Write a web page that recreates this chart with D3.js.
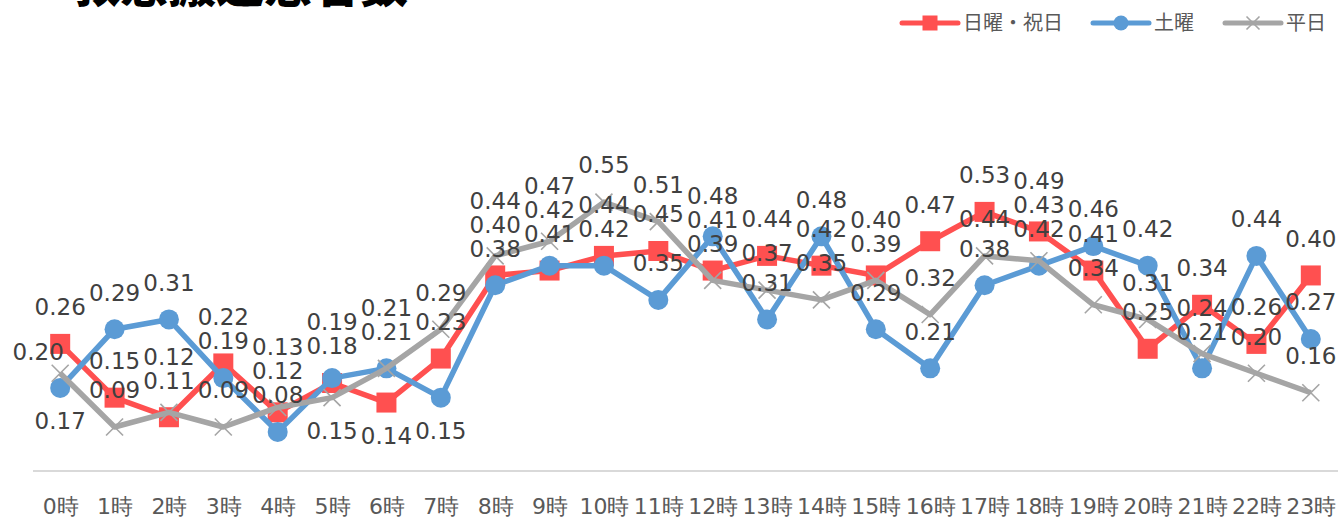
<!DOCTYPE html>
<html>
<head>
<meta charset="utf-8">
<script src="https://cdn.jsdelivr.net/npm/d3@7"></script>
<style>
body { margin: 0; background: #fff; }
svg { display: block; }
</style>
</head>
<body>
<div id="chart"></div>
<script>
var hours = ['0時','1時','2時','3時','4時','5時','6時','7時','8時','9時','10時','11時',
	'12時','13時','14時','15時','16時','17時','18時','19時','20時','21時','22時','23時'];
var seriesNames = ['日曜・祝日', '土曜', '平日'];
var holiday = [0.26,0.15,0.11,0.22,0.12,0.18,0.14,0.23,0.40,0.41,0.44,0.45,0.41,0.44,0.42,0.40,0.47,0.53,0.49,0.41,0.25,0.34,0.26,0.40];
var saturday = [0.17,0.29,0.31,0.19,0.08,0.19,0.21,0.15,0.38,0.42,0.42,0.35,0.48,0.31,0.48,0.29,0.21,0.38,0.42,0.46,0.42,0.21,0.44,0.27];
var weekday = [0.20,0.09,0.12,0.09,0.13,0.15,0.21,0.29,0.44,0.47,0.55,0.51,0.39,0.37,0.35,0.39,0.32,0.44,0.43,0.34,0.31,0.24,0.20,0.16];
var title = '救急搬送患者数';
// labels that don't sit above their point in the original: [series index, hour index, side]
var labelSides = [[1, 0, 'below'], [2, 0, 'left'], [2, 5, 'below'], [0, 6, 'below'], [1, 7, 'below']];

var width = 1338, height = 519;
var colors = ['#FF5050', '#5B9BD5', '#A5A5A5'];
var shapes = ['square', 'circle', 'cross'];
var series = [holiday, saturday, weekday].map(function(v, i) {
	return { name: seriesNames[i], values: v, color: colors[i], shape: shapes[i] };
});

var svg = d3.select('#chart').append('svg')
	.attr('width', width)
	.attr('height', height);

var x = d3.scalePoint().domain(hours).range([33, width]).padding(0.5);
var y = d3.scaleLinear().domain([0, 0.9]).range([471, 31]);

// title (cut off at the top like the original)
svg.append('text')
	.attr('x', 72)
	.attr('y', 2)
	.attr('font-family', '"Noto Sans CJK JP", sans-serif')
	.attr('font-weight', 900)
	.attr('font-size', 48)
	.attr('fill', '#000')
	.text(title);

// axis
var xAxis = svg.append('g')
	.attr('transform', 'translate(0,' + y(0) + ')')
	.call(d3.axisBottom(x).tickSize(0).tickPadding(27));
xAxis.select('.domain').attr('stroke', '#d9d9d9').attr('stroke-width', 2).attr('d', 'M33,0H' + width);
xAxis.selectAll('text')
	.attr('font-family', '"DejaVu Sans", sans-serif')
	.attr('font-size', 22)
	.attr('fill', '#595959');

function drawMarker(g, shape, color, size) {
	if(shape == 'square') {
		g.append('rect').attr('x', -size / 2).attr('y', -size / 2)
			.attr('width', size).attr('height', size).attr('fill', color);
	} else if(shape == 'circle') {
		g.append('circle').attr('r', size / 2).attr('fill', color);
	} else {
		var h = size / 2;
		g.append('path').attr('d', 'M' + -h + ',' + -h + 'L' + h + ',' + h + 'M' + -h + ',' + h + 'L' + h + ',' + -h)
			.attr('stroke', color).attr('stroke-width', 1.6).attr('fill', 'none');
	}
}

var line = d3.line()
	.x(function(d, i) { return x(hours[i]); })
	.y(function(d) { return y(d); });

var plot = svg.append('g');
series.forEach(function(s) {
	var g = plot.append('g');
	g.append('path')
		.attr('d', line(s.values))
		.attr('fill', 'none')
		.attr('stroke', s.color)
		.attr('stroke-width', 5.5)
		.attr('stroke-linejoin', 'round');
	g.selectAll('.m').data(s.values).enter().append('g')
		.attr('transform', function(d, i) { return 'translate(' + x(hours[i]) + ',' + y(d) + ')'; })
		.each(function() {
			drawMarker(d3.select(this), s.shape, s.color, s.shape == 'cross' ? 17 : 20);
		});
});

// data labels: above each point, stacked so they don't overlap
var labels = [];
hours.forEach(function(h, i) {
	var above = [];
	series.forEach(function(s, si) {
		var c = { v: s.values[i], py: y(s.values[i]), x: x(h) };
		var side = labelSides.filter(function(b) { return b[0] == si && b[1] == i; })[0];
		if(side && side[2] == 'below') {
			c.ly = c.py + 33;
			labels.push(c);
		} else if(side && side[2] == 'left') {
			c.x -= 22;
			c.ly = c.py - 22;
			labels.push(c);
		} else {
			above.push(c);
		}
	});
	above.sort(function(a, b) { return b.py - a.py; });
	var prev = Infinity;
	above.forEach(function(c) {
		c.ly = Math.min(c.py - 37, prev - 24);
		prev = c.ly;
		labels.push(c);
	});
});
svg.append('g').selectAll('text').data(labels).enter().append('text')
	.attr('x', function(d) { return d.x; })
	.attr('y', function(d) { return d.ly; })
	.attr('dy', '0.36em')
	.attr('text-anchor', 'middle')
	.attr('font-family', '"DejaVu Sans", sans-serif')
	.attr('font-size', 23)
	.attr('fill', '#404040')
	.text(function(d) { return d.v.toFixed(2); });

// legend
var legendPos = [902, 1093, 1225];
var legend = svg.append('g');
series.forEach(function(s, i) {
	var g = legend.append('g').attr('transform', 'translate(' + legendPos[i] + ',23)');
	g.append('line').attr('x1', 0).attr('x2', 56)
		.attr('stroke', s.color).attr('stroke-width', 5).attr('stroke-linecap', 'round');
	var m = g.append('g').attr('transform', 'translate(28,0)');
	drawMarker(m, s.shape, s.color, s.shape == 'cross' ? 13 : 15);
	g.append('text').attr('x', 61).attr('dy', '0.36em')
		.attr('font-family', '"Noto Sans CJK JP", sans-serif')
		.attr('font-size', 20)
		.attr('fill', '#595959')
		.text(s.name);
});
</script>
</body>
</html>
